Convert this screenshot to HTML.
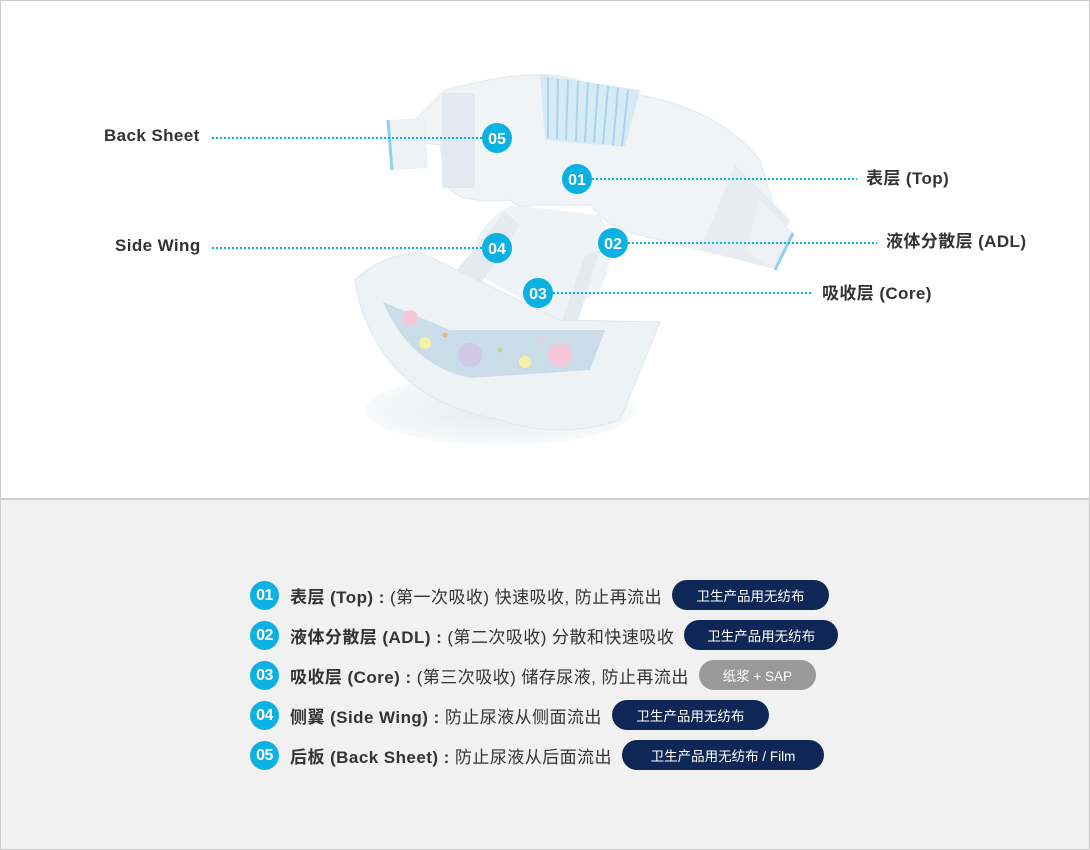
<!DOCTYPE html>
<html><head><meta charset="utf-8"><style>
*{margin:0;padding:0;box-sizing:border-box}
body{width:1090px;height:850px;position:relative;background:#fff;font-family:"Liberation Sans","Noto Sans CJK SC",sans-serif;color:#333;overflow:hidden}
.top{position:absolute;left:0;top:0;width:1090px;height:499px;border:1px solid #ccc;border-bottom:none;background:#fff}
.bot{position:absolute;left:0;top:498px;width:1090px;height:352px;border:1px solid #ccc;border-top:2px solid #ccc;background:#f1f1f1}
.lbl{position:absolute;font-weight:bold;font-size:17px;line-height:20px;white-space:nowrap;color:#333;letter-spacing:0.4px}
.row{position:absolute;left:250px;height:30px;display:flex;align-items:center;white-space:nowrap}
.num{width:29px;height:29px;border-radius:50%;background:#0ab1e2;color:#fff;font-weight:bold;font-size:16px;line-height:29px;text-align:center;margin-right:11px;letter-spacing:-0.5px}
.t{font-size:17px;color:#333;letter-spacing:0.45px}
.t b{font-weight:bold}
.pill{height:30px;border-radius:15px;background:#0f2756;color:#fff;font-size:13.5px;display:flex;align-items:center;justify-content:center;margin-left:10px}
.gray{background:#999}
</style></head><body>
<div class="top"></div>
<div class="bot"></div>
<svg style="position:absolute;left:0;top:0" width="1090" height="499">
<defs>
<radialGradient id="sh" cx="50%" cy="50%" r="50%"><stop offset="0" stop-color="#e3ecef"/><stop offset="1" stop-color="#f7f9fa"/></radialGradient>
</defs>
<ellipse cx="500" cy="410" rx="135" ry="35" fill="url(#sh)"/>
<path d="M445 90 Q520 70 560 76 L640 95 Q720 110 760 160 L775 210 Q770 250 720 255 L640 235 Q610 230 590 205 L535 205 Q520 210 510 200 Q450 205 445 180 L440 145 L395 140 Z" fill="#f1f4f6" stroke="#e3e9ec"/>
<rect x="442" y="93" width="33" height="95" fill="#e1e8ef" rx="3"/>
<path d="M540 75 L640 90 L625 147 L545 140 Z" fill="#d6eaf5"/>
<g stroke="#a9d3ec" stroke-width="2"><line x1="548" y1="78" x2="548" y2="138"/><line x1="558" y1="79" x2="557" y2="139"/><line x1="568" y1="80" x2="566" y2="140"/><line x1="578" y1="81" x2="576" y2="141"/><line x1="588" y1="82" x2="585" y2="142"/><line x1="598" y1="84" x2="594" y2="143"/><line x1="608" y1="86" x2="603" y2="144"/><line x1="618" y1="88" x2="613" y2="145"/><line x1="628" y1="90" x2="622" y2="146"/></g>
<path d="M388 120 L425 118 L428 168 L392 170 Z" fill="#edf1f4"/>
<path d="M388 120 L392 170" stroke="#8fd0f0" stroke-width="3"/>
<path d="M735 165 L790 220 L770 268 L700 250 Z" fill="#e6ecf1"/>
<path d="M760 200 L795 235 L775 270 L745 250 Z" fill="#edf1f4"/>
<path d="M793 233 L775 270" stroke="#8fd0f0" stroke-width="3"/>
<path d="M510 205 Q470 230 470 270 L560 320 L600 290 Q620 250 600 215 Z" fill="#edf3f6"/>
<path d="M505 212 L440 290 L470 300 L520 225 Z" fill="#e4eaee"/>
<path d="M600 250 L575 330 L555 340 L585 255 Z" fill="#e4eaee"/>
<path d="M355 280 Q380 255 420 252 L560 320 L660 322 L620 420 Q560 440 500 420 Q420 405 385 355 Q360 320 355 280 Z" fill="#edf2f5" stroke="#e0e7eb"/>
<path d="M383 302 L450 330 L605 330 L590 370 L470 378 Q410 365 383 302 Z" fill="#c9dce8"/>
<g><circle cx="410" cy="318" r="8" fill="#f4c6d8"/><circle cx="425" cy="343" r="6" fill="#f8f0a8"/><circle cx="470" cy="355" r="12" fill="#cfc8e6"/><circle cx="525" cy="362" r="6" fill="#f8f0a8"/><circle cx="560" cy="355" r="12" fill="#f4c6d8"/><circle cx="500" cy="350" r="2.5" fill="#b5d888"/><circle cx="445" cy="335" r="2.5" fill="#f0b37c"/><circle cx="540" cy="340" r="2.5" fill="#f4c6d8"/></g>
</svg>
<svg style="position:absolute;left:0;top:0" width="1090" height="499">
<g stroke="#0ab1e2" stroke-width="2" stroke-dasharray="2 2">
<line x1="212" y1="138" x2="484" y2="138"/>
<line x1="592" y1="179" x2="857" y2="179"/>
<line x1="628" y1="243" x2="877" y2="243"/>
<line x1="212" y1="248" x2="484" y2="248"/>
<line x1="553" y1="293" x2="812" y2="293"/>
</g>
<g fill="#0ab1e2"><circle cx="497" cy="138" r="15"/><circle cx="577" cy="179" r="15"/><circle cx="613" cy="243" r="15"/><circle cx="497" cy="248" r="15"/><circle cx="538" cy="293" r="15"/></g>
<g fill="#fff" font-family="Liberation Sans" font-weight="bold" font-size="16" text-anchor="middle">
<text x="497" y="144">05</text><text x="577" y="185">01</text><text x="613" y="249">02</text><text x="497" y="254">04</text><text x="538" y="299">03</text></g>
</svg>
<div class="lbl" style="left:104px;top:126px">Back Sheet</div>
<div class="lbl" style="left:115px;top:236px">Side Wing</div>
<div class="lbl" style="left:866px;top:169px">表层 (Top)</div>
<div class="lbl" style="left:886px;top:232px">液体分散层 (ADL)</div>
<div class="lbl" style="left:822px;top:284px">吸收层 (Core)</div>

<div class="row" style="top:580px"><div class="num">01</div><span class="t"><b>表层 (Top) :</b> (第一次吸收) 快速吸收, 防止再流出</span><div class="pill" style="width:157px">卫生产品用无纺布</div></div>
<div class="row" style="top:620px"><div class="num">02</div><span class="t"><b>液体分散层 (ADL) :</b> (第二次吸收) 分散和快速吸收</span><div class="pill" style="width:154px">卫生产品用无纺布</div></div>
<div class="row" style="top:660px"><div class="num">03</div><span class="t"><b>吸收层 (Core) :</b> (第三次吸收) 储存尿液, 防止再流出</span><div class="pill gray" style="width:117px">纸浆 + SAP</div></div>
<div class="row" style="top:700px"><div class="num">04</div><span class="t"><b>侧翼 (Side Wing) :</b> 防止尿液从侧面流出</span><div class="pill" style="width:157px">卫生产品用无纺布</div></div>
<div class="row" style="top:740px"><div class="num">05</div><span class="t"><b>后板 (Back Sheet) :</b> 防止尿液从后面流出</span><div class="pill" style="width:202px">卫生产品用无纺布 / Film</div></div>
</body></html>
